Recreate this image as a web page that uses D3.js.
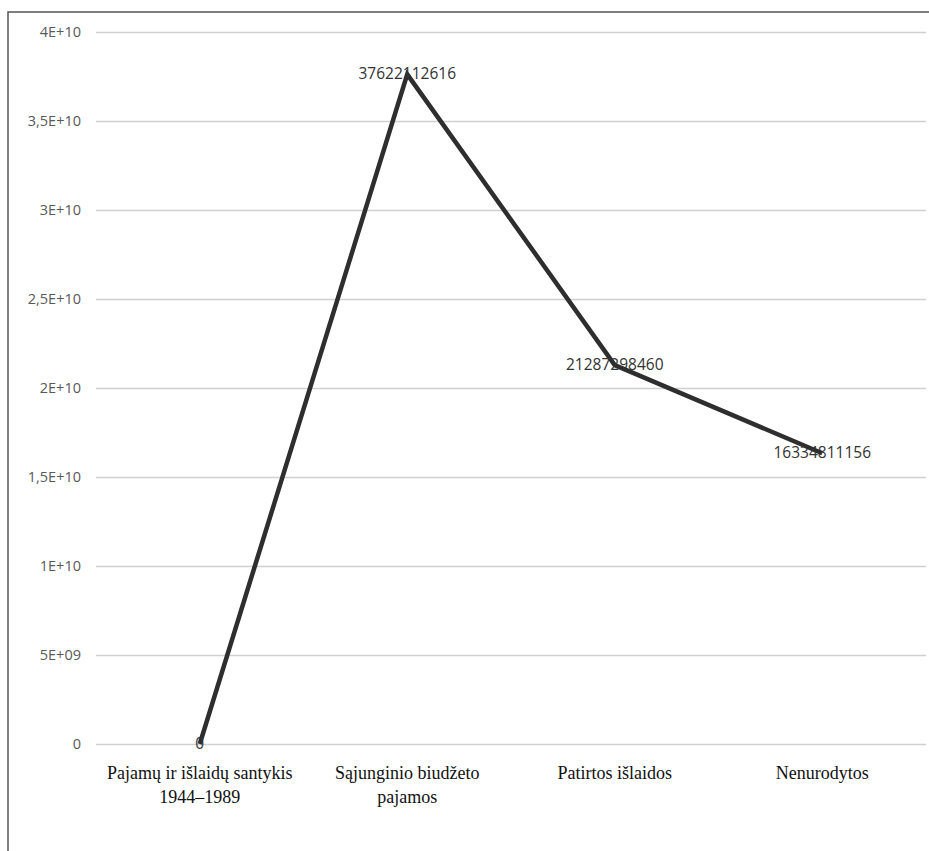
<!DOCTYPE html>
<html>
<head>
<meta charset="utf-8">
<script src="https://cdn.jsdelivr.net/npm/d3@7"></script>
<style>
  body { margin: 0; background: #fff; }
</style>
</head>
<body>
<svg id="chart" width="929" height="851"></svg>
<script>
// chart data
const categories = [
  ["Pajamų ir išlaidų santykis", "1944–1989"],
  ["Sąjunginio biudžeto", "pajamos"],
  ["Patirtos išlaidos"],
  ["Nenurodytos"]
];
const values = [0, 37622112616, 21287298460, 16334811156];
const tickValues = [0, 5e9, 1e10, 1.5e10, 2e10, 2.5e10, 3e10, 3.5e10, 4e10];
const tickLabels = ["0", "5E+09", "1E+10", "1,5E+10", "2E+10", "2,5E+10", "3E+10", "3,5E+10", "4E+10"];

const svg = d3.select("#chart");
const margin = {top: 32, right: 3, bottom: 107, left: 96};
const width = 929 - margin.left - margin.right;
const height = 851 - margin.top - margin.bottom;

// outer frame (top + left edges visible)
svg.append("path")
  .attr("d", "M8,851 L8,12 L929,12")
  .attr("fill", "none")
  .attr("stroke", "#555")
  .attr("stroke-width", 1.5);

const g = svg.append("g").attr("transform", `translate(${margin.left},${margin.top})`);

const x = d3.scaleBand()
  .domain(d3.range(categories.length))
  .range([0, width]);

const y = d3.scaleLinear()
  .domain([0, 4e10])
  .range([height, 0]);

// gridlines + y labels
const yAxis = d3.axisLeft(y)
  .tickValues(tickValues)
  .tickSize(-width)
  .tickPadding(15)
  .tickFormat((d, i) => tickLabels[i]);

g.append("g")
  .call(yAxis)
  .attr("font-family", "'Open Sans', sans-serif")
  .attr("font-size", 14.5)
  .call(a => a.select(".domain").remove())
  .call(a => a.selectAll(".tick line").attr("stroke", "#d0d0d0").attr("stroke-width", 1.5))
  .call(a => a.selectAll(".tick text").attr("fill", "#595959"));

// category labels
const xLab = g.append("g")
  .attr("font-family", "'Liberation Serif', 'DejaVu Serif', serif")
  .attr("font-size", 18)
  .selectAll("text")
  .data(categories)
  .join("text")
  .attr("x", (d, i) => x(i) + x.bandwidth() / 2)
  .attr("y", height + 35)
  .attr("text-anchor", "middle")
  .attr("fill", "#111");

xLab.selectAll("tspan")
  .data(d => d)
  .join("tspan")
  .attr("x", function() { return this.parentNode.getAttribute("x"); })
  .attr("dy", (d, i) => i === 0 ? 0 : 24)
  .text(d => d);

// line
const line = d3.line()
  .x((d, i) => x(i) + x.bandwidth() / 2)
  .y(d => y(d));

g.append("path")
  .datum(values)
  .attr("fill", "none")
  .attr("stroke", "#2e2e2e")
  .attr("stroke-width", 4.5)
  .attr("stroke-linejoin", "miter")
  .attr("d", line);

// data labels, centered on points
g.append("g")
  .attr("font-family", "'Open Sans', sans-serif")
  .attr("font-size", 15.5)
  .selectAll("text")
  .data(values)
  .join("text")
  .attr("x", (d, i) => x(i) + x.bandwidth() / 2)
  .attr("y", d => y(d) + 5)
  .attr("text-anchor", "middle")
  .attr("fill", "#333")
  .text(d => d);
</script>
</body>
</html>
